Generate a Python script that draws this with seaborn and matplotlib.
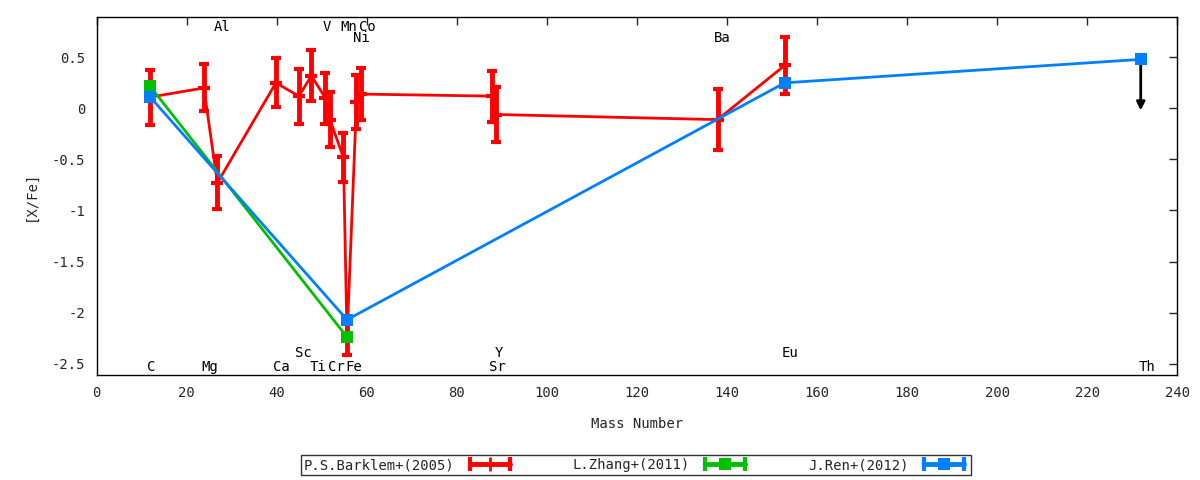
import matplotlib
matplotlib.use('Agg')
import matplotlib.pyplot as plt
import seaborn as sns
from matplotlib.lines import Line2D
from matplotlib.legend_handler import HandlerLine2D, HandlerTuple
from matplotlib.ticker import FuncFormatter, MultipleLocator

# P.S.Barklem+(2005): C Mg Al Ca Sc Ti V Cr Mn Fe Co Ni Sr Y Ba Eu
barklem_mass = [11.8, 23.8, 26.8, 39.8, 44.9, 47.7, 50.8, 51.8, 54.8, 55.6,
                57.7, 58.8, 87.7, 88.8, 137.9, 152.8]
barklem_val = [0.11, 0.20, -0.73, 0.25, 0.12, 0.32, 0.10, -0.11, -0.48, -2.25,
               0.06, 0.14, 0.12, -0.06, -0.11, 0.42]
barklem_err = [0.27, 0.23, 0.26, 0.24, 0.27, 0.25, 0.25, 0.27, 0.24, 0.17,
               0.265, 0.255, 0.25, 0.27, 0.30, 0.28]

# L.Zhang+(2011): C Fe
zhang_mass = [11.8, 55.6]
zhang_val = [0.22, -2.24]

# J.Ren+(2012): C Fe Eu Th (Th is an upper limit)
ren_mass = [11.8, 55.6, 152.8, 231.9]
ren_val = [0.115, -2.07, 0.25, 0.48]
th_limit = -0.02

# element labels: name, x, y
label_names = ['Al', 'V', 'Mn', 'Co', 'Ni', 'Ba',
               'C', 'Mg', 'Ca', 'Sc', 'Ti', 'Cr', 'Fe', 'Y', 'Sr', 'Eu', 'Th']
label_x = [27.8, 51.0, 56.0, 60.2, 58.8, 139.0,
           12.1, 25.0, 41.0, 45.8, 49.2, 53.2, 57.0, 89.4, 89.0, 154.0, 233.4]
label_y = [0.80, 0.80, 0.80, 0.80, 0.685, 0.69,
           -2.535, -2.535, -2.535, -2.40, -2.535, -2.535, -2.535, -2.40, -2.535, -2.40, -2.535]

RED = '#ff0000'
GREEN = '#00c000'
BLUE = '#0080ff'

sns.set_style('white')
plt.rcParams['font.family'] = ['DejaVu Sans Mono']
plt.rcParams['font.size'] = 10
plt.rcParams['axes.unicode_minus'] = False

fig = plt.figure(figsize=(12, 4.8), dpi=100)
ax = fig.add_axes([0.0806, 0.219, 0.9004, 0.7456])

# Barklem
ax.errorbar(barklem_mass, barklem_val, yerr=barklem_err, fmt='none',
            ecolor=RED, elinewidth=3.5, capsize=3.5, capthick=3, zorder=2)
sns.lineplot(x=barklem_mass, y=barklem_val, sort=False, color=RED, lw=2,
             marker='_', markersize=9, markeredgewidth=3, markeredgecolor=RED,
             ax=ax, zorder=2)

# Zhang
sns.lineplot(x=zhang_mass, y=zhang_val, sort=False, color=GREEN, lw=2,
             marker='s', markersize=9, markeredgewidth=0, ax=ax, zorder=3)

# Th upper limit arrow
ax.annotate('', xy=(ren_mass[-1], th_limit), xytext=(ren_mass[-1], ren_val[-1]),
            arrowprops=dict(arrowstyle='-|>', color='black', lw=2,
                            mutation_scale=12, shrinkA=0, shrinkB=0), zorder=3)

# Ren
sns.lineplot(x=ren_mass, y=ren_val, sort=False, color=BLUE, lw=2,
             marker='s', markersize=9, markeredgewidth=0, ax=ax, zorder=4)

for name, x, y in zip(label_names, label_x, label_y):
    ax.text(x, y, name, ha='center', va='center', fontsize=10, color='black')

ax.set_xlim(0, 240)
ax.set_ylim(-2.61, 0.895)
ax.xaxis.set_major_locator(MultipleLocator(20))
ax.yaxis.set_major_locator(MultipleLocator(0.5))
ax.yaxis.set_major_formatter(FuncFormatter(lambda v, p: f'{v:g}'))
ax.tick_params(direction='in', top=True, right=True, length=6, width=1,
               labelsize=10, pad=8)
for sp in ax.spines.values():
    sp.set_color('black')
    sp.set_linewidth(1)
ax.set_xlabel('Mass Number', fontsize=10, labelpad=12)
ax.set_ylabel('[X/Fe]', fontsize=10, labelpad=10)

# gnuplot-like legend samples: line with caps plus point in the middle
handles = []
handler_map = {}
for color, mk in [(RED, '|'), (GREEN, 's'), (BLUE, 's')]:
    caps = Line2D([], [], color=color, lw=3.5, marker='|', markersize=10,
                  markeredgewidth=3)
    if mk == 's':
        point = Line2D([], [], color=color, lw=0, marker='s', markersize=9,
                       markeredgewidth=0)
    else:
        point = Line2D([], [], color=color, lw=0, marker='|', markersize=10,
                       markeredgewidth=2)
    handler_map[caps] = HandlerLine2D(numpoints=2)
    handler_map[point] = HandlerLine2D(numpoints=1)
    handles.append((caps, point))
handler_map[tuple] = HandlerTuple(ndivide=1)

leg = fig.legend(handles, ['P.S.Barklem+(2005)', 'L.Zhang+(2011)', 'J.Ren+(2012)'],
                 handler_map=handler_map, loc='center', bbox_to_anchor=(0.53, 0.031),
                 ncol=3, markerfirst=False, frameon=True, fancybox=False,
                 handlelength=3.5, columnspacing=4.2, borderpad=0.2,
                 handletextpad=0.8, fontsize=10)
leg.get_frame().set_edgecolor('black')
leg.get_frame().set_linewidth(1)

fig.savefig('out.png', dpi=100)
